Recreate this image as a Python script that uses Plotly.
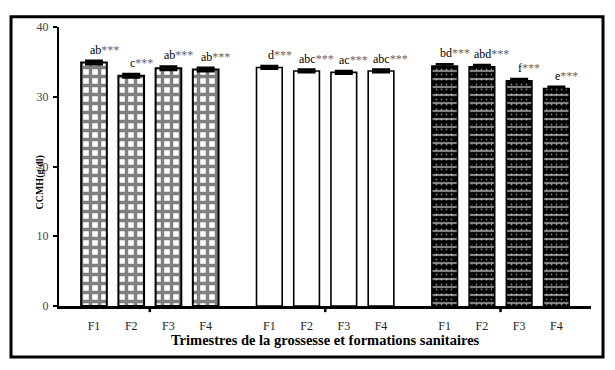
import plotly.graph_objects as go

# ---- data ----
facilities = ["F1", "F2", "F3", "F4"]
trimester1 = [34.9, 33.0, 34.1, 33.9]
trimester2 = [34.2, 33.7, 33.5, 33.7]
trimester3 = [34.4, 34.3, 32.3, 31.2]
err1 = [0.25, 0.25, 0.25, 0.25]
err2 = [0.2, 0.2, 0.2, 0.2]
err3 = [0.25, 0.25, 0.25, 0.25]
letters1 = ["ab", "c", "ab", "ab"]
letters2 = ["d", "abc", "ac", "abc"]
letters3 = ["bd", "abd", "f", "e"]
y_ticks = [0, 10, 20, 30, 40]
x_title = "Trimestres de la grossesse et formations sanitaires"
y_title = "CCMH(g/dl)"

GROUP_STEP = 4.71
BAR_W = 0.69
FONT = "Liberation Serif"

groups = [
    (trimester1, err1, letters1),
    (trimester2, err2, letters2),
    (trimester3, err3, letters3),
]

def positions(g):
    return [g * GROUP_STEP + i for i in range(len(facilities))]

fig = go.Figure()

styles = [
    dict(color="white", line=dict(color="black", width=2),
         pattern=dict(shape="+", fgcolor="black", bgcolor="white", size=9, solidity=0.62)),
    dict(color="white", line=dict(color="black", width=1.6)),
    dict(color="black", line=dict(color="black", width=1.5),
         pattern=dict(shape="-", fgcolor="white", bgcolor="black", size=8, solidity=0.28)),
]

for g, (vals, errs, labs) in enumerate(groups):
    xs = positions(g)
    fig.add_trace(go.Bar(
        x=xs, y=vals, width=BAR_W, marker=styles[g],
        error_y=dict(type="data", array=errs, color="black", thickness=2.5, width=9),
        showlegend=False, hoverinfo="skip",
    ))
    if g == 2:
        fig.add_trace(go.Bar(
            x=xs, y=vals, width=BAR_W - 0.14,
            marker=dict(color="rgba(0,0,0,0)", line=dict(width=0),
                        pattern=dict(shape=".", fgcolor="white", bgcolor="rgba(0,0,0,0)",
                                     size=5, solidity=0.1)),
            showlegend=False, hoverinfo="skip",
        ))
    for x, v, e, lab in zip(xs, vals, errs, labs):
        fig.add_annotation(
            x=x, y=v + e, xref="x", yref="y",
            text=f"{lab}<span style='color:#666'>***</span>",
            showarrow=False, xanchor="left", yanchor="bottom",
            xshift=-3.2 * len(lab), yshift=2,
            font=dict(family=FONT, size=12, color="black"),
        )

all_x = [x for g in range(3) for x in positions(g)]
tick_text = facilities * 3

# small ticks at group centres below the axis
for g in range(3):
    xs = positions(g)
    c = (xs[0] + xs[-1]) / 2
    fig.add_shape(type="line", xref="x", yref="paper", x0=c, x1=c, y0=0, y1=-0.022,
                  line=dict(color="black", width=2.5))

# outer frame
fig.add_shape(type="rect", xref="paper", yref="paper",
              x0=-0.0902, x1=1.0226, y0=-0.183, y1=1.037,
              line=dict(color="black", width=3), fillcolor="rgba(0,0,0,0)")

fig.add_annotation(x=-0.05, y=0.444, xref="paper", yref="paper", text=f"<b>{y_title}</b>",
                   textangle=-90, showarrow=False,
                   font=dict(family=FONT, size=10, color="black"))
fig.add_annotation(x=0.5, y=-0.122, xref="paper", yref="paper", text=f"<b>{x_title}</b>",
                   showarrow=False, yanchor="middle",
                   font=dict(family=FONT, size=14.5, color="black"))

# page body has an 8px margin, so the figure is 8px smaller and offset
fig.update_layout(
    width=607, height=362,
    margin=dict(l=51, r=24, t=14, b=64),
    paper_bgcolor="white", plot_bgcolor="white",
    barmode="overlay",
    font=dict(family=FONT, size=12, color="#222"),
    xaxis=dict(range=[-0.94, 13.35], tickmode="array", tickvals=all_x, ticktext=tick_text,
               ticks="", showline=True, linecolor="black", linewidth=3, showgrid=False,
               zeroline=False, ticklabelstandoff=7,
               tickfont=dict(family=FONT, size=12, color="#222")),
    yaxis=dict(range=[0, 40], tickmode="array", tickvals=y_ticks, ticks="outside",
               ticklen=4, tickwidth=2, tickcolor="black", showline=True, linecolor="black",
               linewidth=2, showgrid=False, zeroline=False, ticklabelstandoff=2,
               tickfont=dict(family=FONT, size=12, color="#444")),
)

fig.write_html("out.html")
